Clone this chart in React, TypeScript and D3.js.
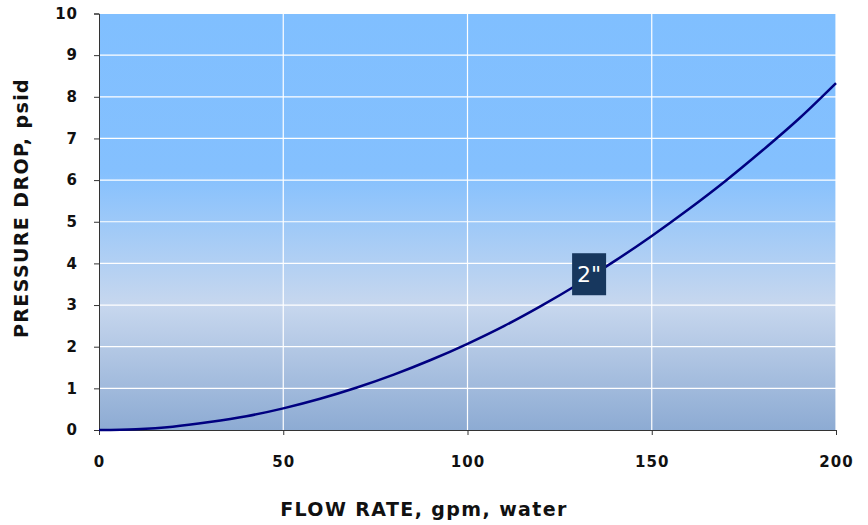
import { useEffect, useRef } from "react";
import * as d3 from "d3";

const flow = [0, 10, 20, 30, 40, 50, 60, 70, 80, 90, 100, 110, 120, 130, 140, 150, 160, 170, 180, 190, 200];
const drop = [0, 0.02, 0.08, 0.19, 0.33, 0.52, 0.75, 1.02, 1.33, 1.68, 2.07, 2.5, 2.98, 3.5, 4.06, 4.66, 5.3, 5.98, 6.71, 7.48, 8.33];
const xTicks = [0, 50, 100, 150, 200];
const yTicks = [0, 1, 2, 3, 4, 5, 6, 7, 8, 9, 10];
const seriesLabel = { text: '2"', x: 133, y: 3.74 };

export default function App() {
  const svgRef = useRef<SVGSVGElement>(null);

  useEffect(() => {
    const W = 868;
    const H = 525;
    const margin = { top: 13.5, right: 32, bottom: 95, left: 99 };
    const width = W - margin.left - margin.right;
    const height = H - margin.top - margin.bottom;

    const svg = d3.select(svgRef.current);
    svg.selectAll("*").remove();
    svg.attr("width", W).attr("height", H);

    const defs = svg.append("defs");
    const grad = defs
      .append("linearGradient")
      .attr("id", "bg")
      .attr("x1", 0)
      .attr("y1", 0)
      .attr("x2", 0)
      .attr("y2", 1);
    [
      ["0%", "#80BFFF"],
      ["38%", "#84C0FE"],
      ["70%", "#C7D7EE"],
      ["100%", "#8DABD3"],
    ].forEach(([o, c]) => grad.append("stop").attr("offset", o).attr("stop-color", c));

    const g = svg.append("g").attr("transform", `translate(${margin.left},${margin.top})`);

    const x = d3.scaleLinear().domain([0, 200]).range([0, width]);
    const y = d3.scaleLinear().domain([0, 10]).range([height, 0]);

    g.append("rect").attr("width", width).attr("height", height).attr("fill", "url(#bg)");

    // grid
    g.selectAll(".hg")
      .data(yTicks.slice(1))
      .enter()
      .append("line")
      .attr("x1", 0)
      .attr("x2", width)
      .attr("y1", (d) => y(d))
      .attr("y2", (d) => y(d))
      .attr("stroke", "#ffffff")
      .attr("stroke-width", 1.2);
    g.selectAll(".vg")
      .data(xTicks.slice(1))
      .enter()
      .append("line")
      .attr("x1", (d) => x(d))
      .attr("x2", (d) => x(d))
      .attr("y1", 0)
      .attr("y2", height)
      .attr("stroke", "#ffffff")
      .attr("stroke-width", 1.2);

    // axes
    const font = "'DejaVu Sans', Verdana, sans-serif";
    const xAxis = g
      .append("g")
      .attr("transform", `translate(0,${height})`)
      .call(d3.axisBottom(x).tickValues(xTicks).tickSize(5).tickPadding(21));
    const yAxis = g.append("g").call(d3.axisLeft(y).tickValues(yTicks).tickSize(5).tickPadding(16));
    [xAxis, yAxis].forEach((a) => {
      a.select(".domain").attr("stroke", "#333");
      a.selectAll(".tick line").attr("stroke", "#333");
      a.selectAll("text")
        .attr("fill", "#111")
        .attr("font-size", 15)
        .attr("font-weight", "bold")
        .attr("letter-spacing", 1)
        .attr("font-family", font);
    });

    // curve
    const pts = flow.map((f, i) => [f, drop[i]] as [number, number]);
    g.append("path")
      .datum(pts)
      .attr("fill", "none")
      .attr("stroke", "#000080")
      .attr("stroke-width", 2.5)
      .attr("d", d3.line<[number, number]>().x((d) => x(d[0])).y((d) => y(d[1])).curve(d3.curveMonotoneX));

    // series label
    const lx = x(seriesLabel.x);
    const ly = y(seriesLabel.y);
    g.append("rect")
      .attr("x", lx - 17)
      .attr("y", ly - 21)
      .attr("width", 34)
      .attr("height", 42)
      .attr("fill", "#17375E");
    g.append("text")
      .attr("x", lx)
      .attr("y", ly + 8)
      .attr("text-anchor", "middle")
      .attr("fill", "#ffffff")
      .attr("font-size", 22)
      .attr("font-family", font)
      .text(seriesLabel.text);

    // titles
    svg.append("text")
      .attr("x", 424)
      .attr("y", 516)
      .attr("text-anchor", "middle")
      .attr("font-size", 19)
      .attr("font-weight", "bold")
      .attr("letter-spacing", 1.4)
      .attr("font-family", font)
      .attr("fill", "#111")
      .text("FLOW RATE, gpm, water");
    svg.append("text")
      .attr("transform", `translate(28,${208}) rotate(-90)`)
      .attr("text-anchor", "middle")
      .attr("font-size", 19)
      .attr("font-weight", "bold")
      .attr("letter-spacing", 1.4)
      .attr("font-family", font)
      .attr("fill", "#111")
      .text("PRESSURE DROP, psid");
  }, []);

  return <svg ref={svgRef} style={{ position: "absolute", left: 0, top: 0 }} />;
}
